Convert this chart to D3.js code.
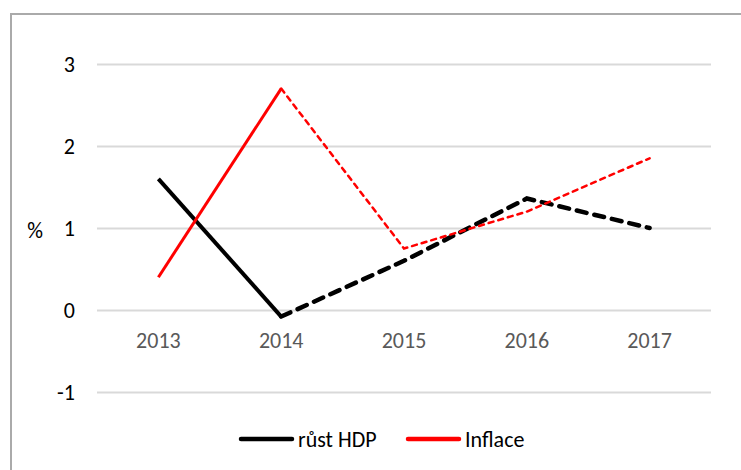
<!DOCTYPE html>
<html>
<head>
<meta charset="utf-8">
<script src="https://cdn.jsdelivr.net/npm/d3@7"></script>
<style>
  body { margin: 0; background: #fff; }
  text { font-family: Carlito, "Open Sans", "Noto Sans", sans-serif; }
</style>
</head>
<body>
<div id="chart"></div>
<script>
const years = ["2013", "2014", "2015", "2016", "2017"];
const hdp = [1.6, -0.08, 0.6, 1.36, 1.0];       // růst HDP
const inflace = [0.4, 2.7, 0.75, 1.2, 1.85];    // Inflace
const yTicks = [-1, 0, 1, 2, 3];
// index from which the series is a forecast (dashed)
const forecastFrom = 1;

const width = 741, height = 470;
const marginLeft = 97, marginRight = 30;
const fontSize = 22;

const svg = d3.select("#chart").append("svg")
    .attr("width", width)
    .attr("height", height)
    .attr("viewBox", [0, 0, width, height]);

// outer frame (runs past the right and bottom edges)
svg.append("rect")
    .attr("x", 11)
    .attr("y", 14)
    .attr("width", 760)
    .attr("height", 480)
    .attr("fill", "none")
    .attr("stroke", "#aaaaaa")
    .attr("stroke-width", 2);

const x = d3.scaleBand(years, [marginLeft, width - marginRight]);
const y = d3.scaleLinear([-1, 3], [392, 64]);

// gridlines + y labels (plain hyphen for negatives, as in the original)
const yAxis = d3.axisLeft(y).tickValues(yTicks).tickFormat(d => String(d))
    .tickSize(0).tickPadding(22);
svg.append("g")
    .attr("transform", `translate(${marginLeft},0)`)
    .call(yAxis)
    .call(g => g.select(".domain").remove())
    .call(g => g.selectAll(".tick line").clone()
        .attr("x2", width - marginLeft - marginRight)
        .attr("stroke", "#d9d9d9")
        .attr("stroke-width", 2))
    .call(g => g.selectAll(".tick text")
        .attr("font-size", fontSize)
        .attr("fill", "#000"));

svg.append("text")
    .attr("x", 35)
    .attr("y", y(1) + 2)
    .attr("dy", "0.35em")
    .attr("text-anchor", "middle")
    .attr("font-size", fontSize)
    .attr("fill", "#000")
    .text("%");

// x labels, below the zero line
const xAxis = d3.axisBottom(x).tickSize(0).tickPadding(22);
svg.append("g")
    .attr("transform", `translate(0,${y(0)})`)
    .call(xAxis)
    .call(g => g.select(".domain").remove())
    .call(g => g.selectAll(".tick text")
        .attr("font-size", fontSize)
        .attr("fill", "#595959"));

const line = d3.line()
    .x(d => x(d.year) + x.bandwidth() / 2)
    .y(d => y(d.value));

function drawSeries(values, color, solidWidth, dashWidth, dash) {
  const pts = years.map((year, i) => ({year, value: values[i]}));
  svg.append("path")
      .attr("d", line(pts.slice(0, forecastFrom + 1)))
      .attr("fill", "none")
      .attr("stroke", color)
      .attr("stroke-width", solidWidth);
  svg.append("path")
      .attr("d", line(pts.slice(forecastFrom)))
      .attr("fill", "none")
      .attr("stroke", color)
      .attr("stroke-width", dashWidth)
      .attr("stroke-dasharray", dash)
      .attr("stroke-linecap", "round");
}

drawSeries(hdp, "#000000", 4, 4.5, "10,8");
drawSeries(inflace, "#ff0000", 3, 2.5, "5,5");

// legend
const legend = [
  {name: "růst HDP", color: "#000000", x: 241},
  {name: "Inflace", color: "#ff0000", x: 408}
];
const lg = svg.append("g");
legend.forEach(d => {
  lg.append("line")
      .attr("x1", d.x).attr("x2", d.x + 51)
      .attr("y1", 439).attr("y2", 439)
      .attr("stroke", d.color)
      .attr("stroke-width", 4.5)
      .attr("stroke-linecap", "round");
  lg.append("text")
      .attr("x", d.x + 57)
      .attr("y", 439)
      .attr("dy", "0.35em")
      .attr("font-size", fontSize)
      .attr("fill", "#000")
      .text(d.name);
});
</script>
</body>
</html>
